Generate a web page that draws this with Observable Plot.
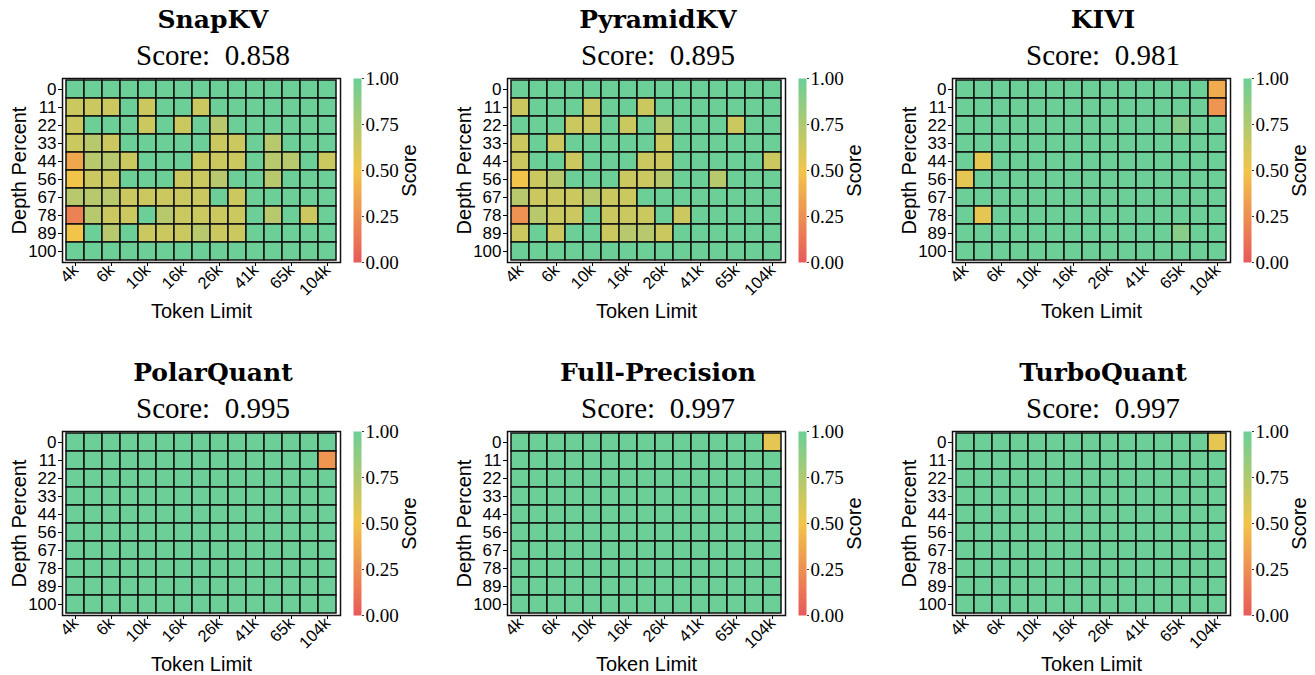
<!DOCTYPE html>
<html><head><meta charset="utf-8">
<script src="https://cdn.jsdelivr.net/npm/d3@7"></script>
<script src="https://cdn.jsdelivr.net/npm/@observablehq/plot@0.6"></script>
<style>
body{margin:0;background:#fff;}
#root{position:relative;width:1315px;height:675px;overflow:hidden;background:#fff;}
.t{position:absolute;width:340px;text-align:center;color:#000;white-space:pre;line-height:28px;}
.t1{font-family:"DejaVu Serif",serif;font-weight:bold;font-size:25px;}
.t2{font-family:"Liberation Serif",serif;font-size:29px;}
.p{position:absolute;}
</style></head>
<body><div id="root"></div>
<script>
// Token limits (thousands) – 15 columns; every other one is labelled
const tokens = [4, 5, 6, 8, 10, 13, 16, 20, 26, 33, 41, 52, 65, 82, 104];
const tokenTicks = [4, 6, 10, 16, 26, 41, 65, 104];
const depths = [0, 11, 22, 33, 44, 56, 67, 78, 89, 100];
const methods = ["SnapKV", "PyramidKV", "KIVI", "PolarQuant", "Full-Precision", "TurboQuant"];
const scores = [0.858, 0.895, 0.981, 0.995, 0.997, 0.997];
const colorbarTicks = [0, 0.25, 0.5, 0.75, 1];

const snapkv = [
  [1,1,1,1,1,1,1,1,1,1,1,1,1,1,1],
  [.64,.64,.64,1,.64,1,1,.64,1,1,1,1,1,1,1],
  [.64,1,1,1,.64,1,.64,1,.72,1,1,1,1,1,1],
  [.64,.72,.64,1,1,1,1,1,.64,.64,1,.72,1,1,1],
  [.36,.72,.72,.64,1,1,1,.64,.64,.64,1,.72,.72,1,.64],
  [.5,.64,.64,1,1,1,.64,.64,.72,1,1,.72,1,1,1],
  [.72,.72,.72,.64,.64,.64,.64,.64,1,.64,1,1,1,1,1],
  [.18,.72,.64,.64,1,.72,.64,.64,.64,.64,1,.72,1,.64,1],
  [.5,1,.72,1,.64,.64,.64,.72,.64,.64,1,1,1,1,1],
  [1,1,1,1,1,1,1,1,1,1,1,1,1,1,1]
];
const pyramidkv = [
  [1,1,1,1,1,1,1,1,1,1,1,1,1,1,1],
  [.64,1,1,1,.64,1,1,.64,1,1,1,1,1,1,1],
  [1,1,1,.64,.64,1,.64,1,.72,1,1,1,.64,1,1],
  [.64,1,.64,1,1,1,1,1,.64,1,1,1,1,1,1],
  [.64,1,1,.64,1,1,1,.64,.64,1,1,1,1,1,.64],
  [.5,.64,.72,1,1,1,.64,.64,.72,1,1,.72,1,1,1],
  [.72,.64,.64,.64,.72,.64,.64,1,1,1,1,1,1,1,1],
  [.26,.72,.64,.64,1,.64,.64,.64,1,.64,1,1,1,1,1],
  [.64,1,.64,1,1,.64,.72,.72,.64,1,1,1,1,1,1],
  [1,1,1,1,1,1,1,1,1,1,1,1,1,1,1]
];
const kivi = [
  [1,1,1,1,1,1,1,1,1,1,1,1,1,1,.38],
  [1,1,1,1,1,1,1,1,1,1,1,1,1,1,.28],
  [1,1,1,1,1,1,1,1,1,1,1,1,.9,1,1],
  [1,1,1,1,1,1,1,1,1,1,1,1,1,1,1],
  [1,.55,1,1,1,1,1,1,1,1,1,1,1,1,1],
  [.55,1,1,1,1,1,1,1,1,1,1,1,1,1,1],
  [1,1,1,1,1,1,1,1,1,1,1,1,1,1,1],
  [1,.55,1,1,1,1,1,1,1,1,1,1,1,1,1],
  [1,1,1,1,1,1,1,1,1,1,1,1,.9,1,1],
  [1,1,1,1,1,1,1,1,1,1,1,1,1,1,1]
];
const polarquant = [
  [1,1,1,1,1,1,1,1,1,1,1,1,1,1,1],
  [1,1,1,1,1,1,1,1,1,1,1,1,1,1,.28],
  [1,1,1,1,1,1,1,1,1,1,1,1,1,1,1],
  [1,1,1,1,1,1,1,1,1,1,1,1,1,1,1],
  [1,1,1,1,1,1,1,1,1,1,1,1,1,1,1],
  [1,1,1,1,1,1,1,1,1,1,1,1,1,1,1],
  [1,1,1,1,1,1,1,1,1,1,1,1,1,1,1],
  [1,1,1,1,1,1,1,1,1,1,1,1,1,1,1],
  [1,1,1,1,1,1,1,1,1,1,1,1,1,1,1],
  [1,1,1,1,1,1,1,1,1,1,1,1,1,1,1]
];
const fullprecision = [
  [1,1,1,1,1,1,1,1,1,1,1,1,1,1,.55],
  [1,1,1,1,1,1,1,1,1,1,1,1,1,1,1],
  [1,1,1,1,1,1,1,1,1,1,1,1,1,1,1],
  [1,1,1,1,1,1,1,1,1,1,1,1,1,1,1],
  [1,1,1,1,1,1,1,1,1,1,1,1,1,1,1],
  [1,1,1,1,1,1,1,1,1,1,1,1,1,1,1],
  [1,1,1,1,1,1,1,1,1,1,1,1,1,1,1],
  [1,1,1,1,1,1,1,1,1,1,1,1,1,1,1],
  [1,1,1,1,1,1,1,1,1,1,1,1,1,1,1],
  [1,1,1,1,1,1,1,1,1,1,1,1,1,1,1]
];
const turboquant = [
  [1,1,1,1,1,1,1,1,1,1,1,1,1,1,.55],
  [1,1,1,1,1,1,1,1,1,1,1,1,1,1,1],
  [1,1,1,1,1,1,1,1,1,1,1,1,1,1,1],
  [1,1,1,1,1,1,1,1,1,1,1,1,1,1,1],
  [1,1,1,1,1,1,1,1,1,1,1,1,1,1,1],
  [1,1,1,1,1,1,1,1,1,1,1,1,1,1,1],
  [1,1,1,1,1,1,1,1,1,1,1,1,1,1,1],
  [1,1,1,1,1,1,1,1,1,1,1,1,1,1,1],
  [1,1,1,1,1,1,1,1,1,1,1,1,1,1,1],
  [1,1,1,1,1,1,1,1,1,1,1,1,1,1,1]
];
const grids = [snapkv, pyramidkv, kivi, polarquant, fullprecision, turboquant];

const colorScale = {type: "linear", domain: [0, 0.5, 1], range: ["#e85a5a", "#f2c54a", "#6ccf97"], clamp: true};
const SANS = "'Liberation Sans', Arial, sans-serif";
const SERIF = "'Liberation Serif', serif";

function heatmap(grid) {
  const data = [];
  grid.forEach((row, i) => row.forEach((v, j) => data.push({token: tokens[j], depth: depths[i], score: v})));
  return Plot.plot({
    width: 345, height: 250,
    marginLeft: 62, marginRight: 5, marginTop: 8, marginBottom: 58,
    style: {fontFamily: SANS, color: "#000", background: "transparent", overflow: "visible"},
    x: {type: "band", domain: tokens, padding: 0, axis: null},
    y: {type: "band", domain: depths, padding: 0, axis: null},
    color: colorScale,
    marks: [
      Plot.cell(data, {x: "token", y: "depth", fill: "score", stroke: "#111", strokeWidth: 1.5}),
      Plot.frame({stroke: "#111", strokeWidth: 1.5}),
      Plot.axisX({ticks: tokenTicks, tickFormat: d => d + "k", tickRotate: -45, tickSize: 4, tickPadding: 1, fontSize: 16.5, label: null}),
      Plot.axisY({tickSize: 4, tickPadding: 2, fontSize: 17, label: null}),
      Plot.text(["Token Limit"], {frameAnchor: "bottom", dy: 55, fontSize: 20, fill: "#000", textAnchor: "middle"}),
      Plot.text(["Depth Percent"], {frameAnchor: "left", dx: -43, rotate: -90, fontSize: 20, fill: "#000", textAnchor: "middle"})
    ]
  });
}

function colorbar() {
  return Plot.plot({
    width: 90, height: 250,
    marginLeft: 8, marginRight: 74, marginTop: 8, marginBottom: 58,
    style: {fontFamily: SERIF, color: "#000", background: "transparent", overflow: "visible"},
    x: {domain: [0, 1], axis: null},
    y: {domain: [0, 1], axis: null},
    color: colorScale,
    marks: [
      Plot.raster({fill: (x, y) => y, x1: 0, x2: 1, y1: 0, y2: 1, width: 1, height: 200, imageRendering: "auto"}),
      Plot.axisY({anchor: "right", ticks: colorbarTicks, tickFormat: d3.format(".2f"), tickSize: 2, tickPadding: 2, strokeWidth: 0.8, fontSize: 19, fontFamily: SERIF, label: null}),
      Plot.text(["Score"], {frameAnchor: "right", dx: 48, rotate: -90, fontSize: 20, fontFamily: SANS, fill: "#000", textAnchor: "middle"})
    ]
  });
}

const root = document.getElementById("root");
const colX = [0, 445, 890];
const rowY = [0, 353];
methods.forEach((m, k) => {
  const px = colX[k % 3], py = rowY[Math.floor(k / 3)];
  const t1 = document.createElement("div");
  t1.className = "t t1"; t1.textContent = m;
  t1.style.left = (px + 213 - 170) + "px"; t1.style.top = (py + 6) + "px";
  root.appendChild(t1);
  const t2 = document.createElement("div");
  t2.className = "t t2"; t2.textContent = "Score:  " + scores[k].toFixed(3);
  t2.style.left = (px + 213 - 170) + "px"; t2.style.top = (py + 41) + "px";
  root.appendChild(t2);
  const h = heatmap(grids[k]);
  h.classList.add("p"); h.style.left = px + "px"; h.style.top = (py + 70) + "px";
  root.appendChild(h);
  const c = colorbar();
  c.classList.add("p"); c.style.left = (px + 345) + "px"; c.style.top = (py + 70) + "px";
  root.appendChild(c);
});
</script>
</body></html>
